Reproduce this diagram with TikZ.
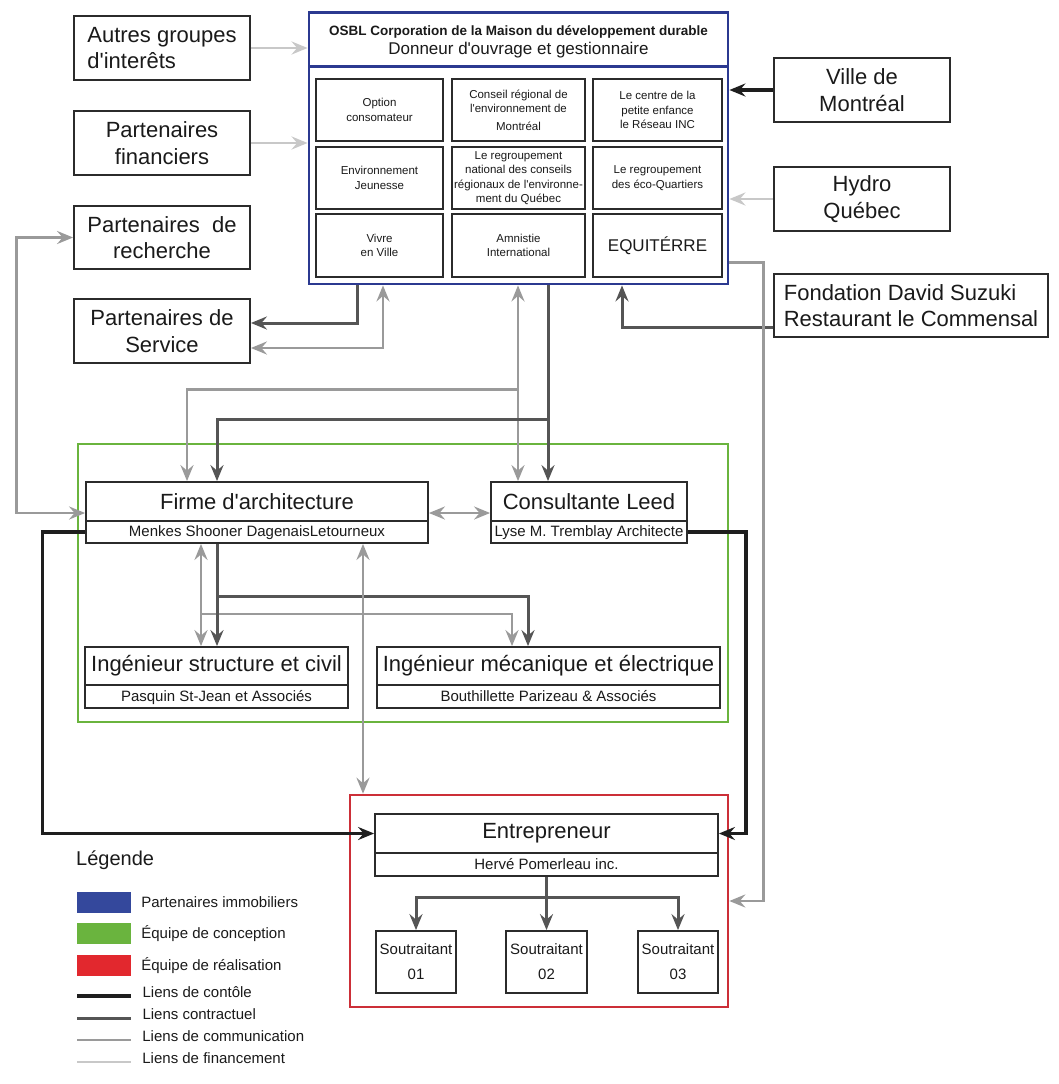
\documentclass[tikz,border=0pt]{standalone}
\usepackage{fontspec}
\setmainfont{Liberation Sans}
\usetikzlibrary{arrows.meta,positioning}

\definecolor{inkline}{HTML}{2B2B2B}
\definecolor{inktext}{HTML}{1A1A1A}
\definecolor{osblblue}{HTML}{2B3990}
\definecolor{legblue}{HTML}{34489C}
\definecolor{concgreen}{HTML}{6AB43E}
\definecolor{realred}{HTML}{CC2F38}
\definecolor{legred}{HTML}{E2282E}
\definecolor{ctrlc}{HTML}{1E1E1E}
\definecolor{contractc}{HTML}{555555}
\definecolor{commc}{HTML}{9A9A9A}
\definecolor{finc}{HTML}{C8C8C8}

\newcommand{\apos}{\textquotesingle}

\begin{document}
\begin{tikzpicture}[x=1pt,y=-1pt,
	>={Stealth[length=16pt,width=13pt,inset=5.5pt]},
	box/.style={draw=inkline,line width=1.8pt,fill=white,inner sep=0pt,align=center,text=inktext,font=\fontsize{22}{26.5}\selectfont},
	subbox/.style={box,font=\fontsize{15}{18}\selectfont},
	cell/.style={box,font=\fontsize{11.5}{14.5}\selectfont},
	teamframe/.style={line width=2.6pt,inner sep=0pt},
	legtext/.style={anchor=west,inner sep=0pt,text=inktext,font=\fontsize{15}{18}\selectfont},
	ctrl/.style={draw=ctrlc,line width=3.2pt},
	contract/.style={draw=contractc,line width=3pt},
	comm/.style={draw=commc,line width=2.8pt},
	fin/.style={draw=finc,line width=2.8pt}]
	\useasboundingbox (0,0) rectangle (1059,1084);

	% equipes
	\node[teamframe,draw=concgreen,minimum width=650pt,minimum height=278pt] (concept) at (403,583) {};
	\node[teamframe,draw=realred,minimum width=378pt,minimum height=212pt] (realis) at (539,901) {};

	% OSBL
	\node[draw=osblblue,line width=2.8pt,inner sep=0pt,minimum width=419pt,minimum height=271.5pt] (osbl) at (518.5,148.25) {};
	\node[draw=osblblue,line width=2.8pt,fill=white,inner sep=0pt,minimum width=419pt,minimum height=54pt] (osblhead) at (518.5,39.5) {};
	\node[inner sep=0pt,align=center,text=inktext,font=\fontsize{17}{19}\selectfont] (osbltitle) at (518.5,42)
		{{\bfseries\fontsize{13.5}{19}\selectfont OSBL Corporation de la Maison du développement durable}\\Donneur d\apos ouvrage et gestionnaire};
	\node[cell,minimum width=127pt,minimum height=62pt] (optcons) at (379.5,110) {Option\\consomateur};
	\node[cell,minimum width=133pt,minimum height=62pt] (crem) at (518.5,110) {Conseil régional de\\l\apos environnement de\\[3pt]Montréal};
	\node[cell,minimum width=129pt,minimum height=62pt] (cpe) at (657.5,110) {Le centre de la\\petite enfance\\le Réseau INC};
	\node[cell,minimum width=127pt,minimum height=62pt] (envjeune) at (379.5,178) {Environnement\\Jeunesse};
	\node[cell,minimum width=133pt,minimum height=62pt] (rncreq) at (518.5,178) {Le regroupement\\national des conseils\\régionaux de l\apos environne-\\ment du Québec};
	\node[cell,minimum width=129pt,minimum height=62pt] (ecoquart) at (657.5,178) {Le regroupement\\des éco-Quartiers};
	\node[cell,minimum width=127pt,minimum height=63pt] (vivre) at (379.5,245.5) {Vivre\\en Ville};
	\node[cell,minimum width=133pt,minimum height=63pt] (amnistie) at (518.5,245.5) {Amnistie\\International};
	\node[cell,minimum width=129pt,minimum height=63pt,font=\fontsize{17}{20}\selectfont] (equiterre) at (657.5,245.5) {EQUITÉRRE};

	% partenaires
	\node[box,minimum width=176pt,minimum height=64pt,align=left] (autres) at (162,48) {Autres groupes\\d\apos interêts};
	\node[box,minimum width=176pt,minimum height=64pt] (financ) at (162,143) {Partenaires\\financiers};
	\node[box,minimum width=176pt,minimum height=63pt] (recher) at (162,237.5) {Partenaires\ \ de\\recherche};
	\node[box,minimum width=176pt,minimum height=64pt] (service) at (162,331) {Partenaires de\\Service};
	\node[box,minimum width=176pt,minimum height=64pt] (ville) at (862,90) {Ville de\\Montréal};
	\node[box,minimum width=176pt,minimum height=64pt] (hydro) at (862,199) {Hydro\\Québec};
	\node[box,minimum width=274pt,minimum height=63pt,align=left] (fondation) at (911,305.5) {Fondation David Suzuki\\Restaurant le Commensal};

	% conception
	\node[box,minimum width=342pt,minimum height=39pt] (firme) at (257,501.5) {Firme d\apos architecture};
	\node[subbox,minimum width=342pt,minimum height=22pt,text depth=2pt] (firmesub) at (257,532) {Menkes Shooner DagenaisLetourneux};
	\node[box,minimum width=196pt,minimum height=39pt] (consult) at (589,501.5) {Consultante Leed};
	\node[subbox,minimum width=196pt,minimum height=22pt,text depth=2pt] (consultsub) at (589,532) {Lyse M. Tremblay Architecte};
	\node[box,minimum width=263pt,minimum height=38pt] (ingstruct) at (216.5,666) {Ingénieur structure et civil};
	\node[subbox,minimum width=263pt,minimum height=23pt,text depth=2pt] (ingstructsub) at (216.5,696.5) {Pasquin St-Jean et Associés};
	\node[box,minimum width=343pt,minimum height=38pt] (ingmeca) at (548.5,666) {Ingénieur mécanique et électrique};
	\node[subbox,minimum width=343pt,minimum height=23pt,text depth=2pt] (ingmecasub) at (548.5,696.5) {Bouthillette Parizeau \& Associés};

	% realisation
	\node[box,minimum width=343pt,minimum height=39pt] (entre) at (546.5,833.5) {Entrepreneur};
	\node[subbox,minimum width=343pt,minimum height=23pt,text depth=2pt] (entresub) at (546.5,864.5) {Hervé Pomerleau inc.};
	\node[subbox,minimum width=80pt,minimum height=62pt] (sout1) at (416,962) {Soutraitant\\[7pt]01};
	\node[subbox,minimum width=81pt,minimum height=62pt] (sout2) at (546.5,962) {Soutraitant\\[7pt]02};
	\node[subbox,minimum width=80pt,minimum height=62pt] (sout3) at (678,962) {Soutraitant\\[7pt]03};

	% liens vers l'OSBL
	\draw[fin,->] (autres.east) -- (autres.east -| osbl.west);
	\draw[fin,->] (financ.east) -- (financ.east -| osbl.west);
	\draw[ctrl,->] (ville.west) -- (ville.west -| osbl.east);
	\draw[fin,->] (hydro.west) -- (hydro.west -| osbl.east);
	\draw[contract,->] ([yshift=-21.5pt]fondation.west) -| ([xshift=103.5pt]osbl.south);
	\draw[contract,->] ([xshift=-161.5pt]osbl.south) |- ([yshift=8pt]service.east);
	\draw[comm,<->] ([xshift=-135.5pt]osbl.south) |- ([yshift=-17pt]service.east);
	\draw[comm,->] ([yshift=-114pt]osbl.east) -- ++(34,0) |- (realis.east);

	% OSBL vers conception
	\draw[comm,<->] ([xshift=-0.5pt]osbl.south) -- ([xshift=-71pt]consult.north);
	\draw[comm,->] ([xshift=-0.5pt,yshift=-104pt]osbl.south) -| ([xshift=-70pt]firme.north);
	\draw[contract,->] ([xshift=29.5pt]osbl.south) -- ([xshift=-41pt]consult.north);
	\draw[contract,->] ([xshift=29.5pt,yshift=-134pt]osbl.south) -| ([xshift=-40pt]firme.north);

	% conception
	\draw[comm,<->] (recher.west) -- ++(-57,0) |- ([yshift=-11.5pt]firme.west);
	\draw[comm,<->] ([yshift=-11.5pt]firme.east) -- ([yshift=-11.5pt]consult.west);
	\draw[comm,<->] ([xshift=-56pt]firmesub.south) -- ([xshift=-15.5pt]ingstruct.north);
	\draw[comm,->] ([xshift=-56pt,yshift=-70pt]firmesub.south) -| ([xshift=-36.5pt]ingmeca.north);
	\draw[contract,->] ([xshift=-40pt]firmesub.south) -- ([xshift=0.5pt]ingstruct.north);
	\draw[contract,->] ([xshift=-40pt,yshift=-53pt]firmesub.south) -| ([xshift=-20.5pt]ingmeca.north);
	\draw[comm,<->] ([xshift=106pt]firmesub.south) -- ([xshift=-176pt]realis.north);

	% controle
	\draw[ctrl,->] (firmesub.west) -- ++(-43,0) |- (entre.west);
	\draw[ctrl,->] (consultsub.east) -- ++(58,0) |- (entre.east);

	% soutraitants
	\draw[contract,->] (entresub.south) -- (sout2.north);
	\draw[contract,->] ([yshift=-21pt]entresub.south) -| (sout1.north);
	\draw[contract,->] ([yshift=-21pt]entresub.south) -| (sout3.north);

	% legende
	\node[anchor=west,inner sep=0pt,text=inktext,font=\fontsize{20}{24}\selectfont] (legende) at (76,860) {Légende};
	\node[fill=legblue,inner sep=0pt,minimum width=54pt,minimum height=21pt] (swblue) at (104,902.5) {};
	\node[fill=concgreen,inner sep=0pt,minimum width=54pt,minimum height=21pt] (swgreen) at (104,933.5) {};
	\node[fill=legred,inner sep=0pt,minimum width=54pt,minimum height=21pt] (swred) at (104,965.5) {};
	\node[legtext,right=10pt of swblue] {Partenaires immobiliers};
	\node[legtext,right=10pt of swgreen] {Équipe de conception};
	\node[legtext,right=10pt of swred] {Équipe de réalisation};
	\draw[ctrl] (77,996) -- ++(54,0) node[legtext,right=10pt,yshift=4pt] {Liens de contôle};
	\draw[contract] (77,1018) -- ++(54,0) node[legtext,right=10pt,yshift=4pt] {Liens contractuel};
	\draw[comm] (77,1040) -- ++(54,0) node[legtext,right=10pt,yshift=4pt] {Liens de communication};
	\draw[fin] (77,1062) -- ++(54,0) node[legtext,right=10pt,yshift=4pt] {Liens de financement};
\end{tikzpicture}
\end{document}
